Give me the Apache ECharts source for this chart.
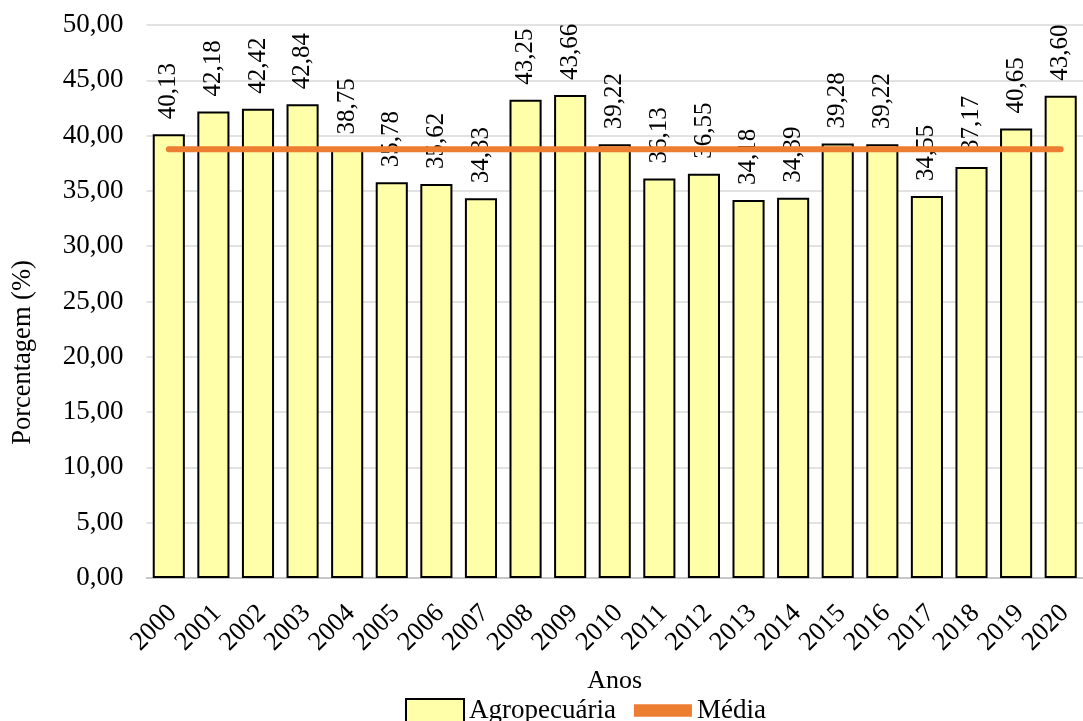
<!DOCTYPE html>
<html>
<head>
<meta charset="utf-8">
<script src="https://cdn.jsdelivr.net/npm/echarts@6/dist/echarts.min.js"></script>
<style>html,body{margin:0;padding:0;background:#fff;}#c{width:1083px;height:721px;}</style>
</head>
<body>
<div id="c"></div>
<script>
const years = ['2000','2001','2002','2003','2004','2005','2006','2007','2008','2009','2010','2011','2012','2013','2014','2015','2016','2017','2018','2019','2020'];
const agro = [40.13,42.18,42.42,42.84,38.75,35.78,35.62,34.33,43.25,43.66,39.22,36.13,36.55,34.18,34.39,39.28,39.22,34.55,37.17,40.65,43.60];
const media = [38.76,38.76,38.76,38.76,38.76,38.76,38.76,38.76,38.76,38.76,38.76,38.76,38.76,38.76,38.76,38.76,38.76,38.76,38.76,38.76,38.76];
const yTicks = [0,5,10,15,20,25,30,35,40,45,50];

const FONT = 'Liberation Serif';
const fmt = v => Number(v).toFixed(2).replace('.', ',');

const chart = echarts.init(document.getElementById('c'));
chart.setOption({
  animation: false,
  textStyle: { fontFamily: FONT, color: '#000' },
  grid: { left: 146.5, top: 25, width: 950.7, bottom: 143, containLabel: false },
  xAxis: {
    type: 'category',
    data: years,
    name: 'Anos',
    nameLocation: 'middle',
    nameGap: 90,
    nameTextStyle: { fontFamily: FONT, fontSize: 26, color: '#000' },
    axisLine: { show: true, lineStyle: { color: '#bfbfbf', width: 1.5 } },
    axisTick: { show: false },
    axisLabel: { interval: 0, rotate: 45, margin: 16, align: 'right', verticalAlign: 'top', padding: [0, 8, 0, 0], fontFamily: FONT, fontSize: 26.5, color: '#000' }
  },
  yAxis: {
    type: 'value',
    min: yTicks[0],
    max: yTicks[yTicks.length - 1],
    interval: 5,
    name: 'Porcentagem (%)',
    nameLocation: 'middle',
    nameGap: 110,
    nameTextStyle: { fontFamily: FONT, fontSize: 26.5, color: '#000', padding: [0, 102, 0, 0] },
    axisLine: { show: false },
    axisTick: { show: false },
    splitLine: { lineStyle: { color: '#d9d9d9', width: 1.5 } },
    axisLabel: { margin: 23, fontFamily: FONT, fontSize: 27, color: '#000', formatter: fmt }
  },
  legend: {
    left: 400,
    top: 692,
    itemWidth: 58,
    itemHeight: 23,
    itemGap: 18,
    textStyle: { fontFamily: FONT, fontSize: 27, color: '#000' },
    data: [
      { name: 'Agropecuária', icon: 'rect', itemStyle: { color: '#FFFFAA', borderColor: '#000', borderWidth: 2 } },
      { name: 'Média', icon: 'path://M0,0H60V13H0Z', itemStyle: { color: '#ED7D31', borderWidth: 0 } }
    ]
  },
  series: [
    {
      name: 'Agropecuária',
      type: 'bar',
      data: agro,
      barCategoryGap: '28%',
      itemStyle: { color: '#FFFFAA', borderColor: '#000', borderWidth: 2 },
      label: {
        show: true,
        position: 'top',
        rotate: 90,
        align: 'left',
        verticalAlign: 'middle',
        distance: 15,
        fontFamily: FONT,
        fontSize: 25,
        color: '#000',
        formatter: p => fmt(p.value)
      },
      z: 2
    },
    {
      name: 'Média',
      type: 'line',
      data: media,
      symbol: 'none',
      lineStyle: { color: '#ED7D31', width: 6, cap: 'round' },
      itemStyle: { color: '#ED7D31' },
      z: 3
    }
  ]
});
</script>
</body>
</html>
